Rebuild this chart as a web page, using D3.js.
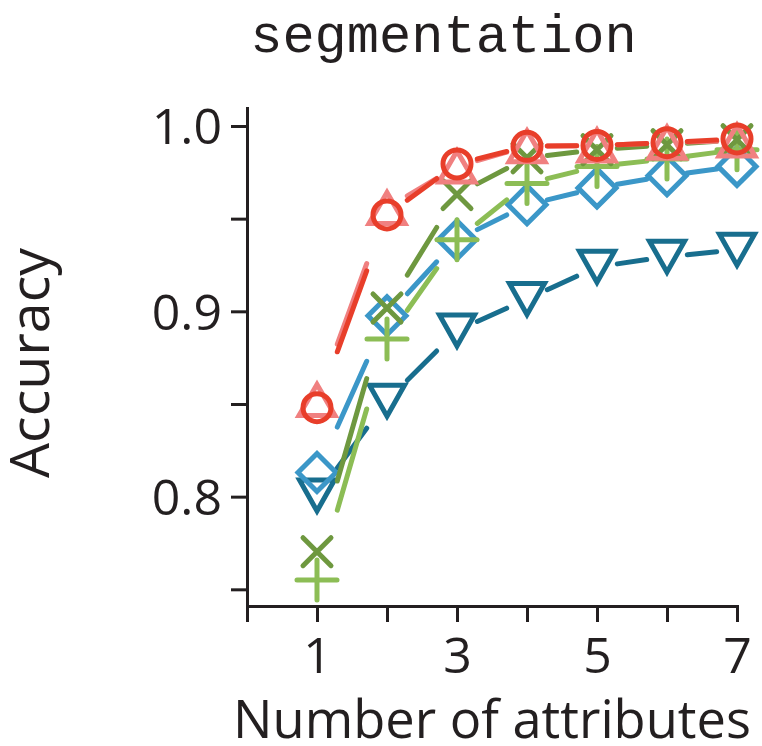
<!DOCTYPE html>
<html>
<head>
<meta charset="utf-8">
<script src="https://cdn.jsdelivr.net/npm/d3@7"></script>
<style>
  body { margin: 0; background: #fff; }
  svg { display: block; }
</style>
</head>
<body>
<svg id="chart" width="762" height="746"></svg>
<script>
// Number of attributes on the x axis
const attributes = [1, 2, 3, 4, 5, 6, 7];
const xTicks = [0, 1, 2, 3, 4, 5, 6, 7];
const xTickLabels = ["", "1", "", "3", "", "5", "", "7"];
const yTicks = [0.75, 0.80, 0.85, 0.90, 0.95, 1.00];
const yTickLabels = ["", "0.8", "", "0.9", "", "1.0"];

// Accuracy per method (one array per marker style)
const accTriangleDown = [0.8006, 0.8518, 0.8896, 0.9066, 0.9240, 0.9295, 0.9332];
const accDiamond      = [0.8130, 0.8976, 0.9386, 0.9575, 0.9666, 0.9732, 0.9782];
const accPlus         = [0.7550, 0.8850, 0.9386, 0.9689, 0.9782, 0.9822, 0.9872];
const accCross        = [0.7703, 0.9018, 0.9630, 0.9828, 0.9872, 0.9899, 0.9926];
const accTriangleUp   = [0.8522, 0.9558, 0.9782, 0.9890, 0.9895, 0.9910, 0.9921];
const accCircle       = [0.8480, 0.9520, 0.9795, 0.9890, 0.9895, 0.9910, 0.9930];

const svg = d3.select("#chart");
const ink = "#231f20";
const tickFont = "'Open Sans', 'Noto Sans', sans-serif";

const x = d3.scaleLinear().domain([0, 7]).range([247, 737]);
const y = d3.scaleLinear().domain([0.741, 1.0097]).range([606, 108]);

// ---- axes ----
const yAxis = svg.append("g")
  .attr("transform", `translate(${x(0)},0)`)
  .call(d3.axisLeft(y).tickValues(yTicks).tickSize(16).tickSizeOuter(0)
    .tickFormat((d, i) => yTickLabels[i]));

const xAxis = svg.append("g")
  .attr("transform", `translate(0,${y.range()[0]})`)
  .call(d3.axisBottom(x).tickValues(xTicks).tickSize(16).tickSizeOuter(0)
    .tickFormat((d, i) => xTickLabels[i]));

[yAxis, xAxis].forEach(g => {
  g.select(".domain").attr("stroke", ink).attr("stroke-width", 3).attr("stroke-linecap", "square");
  g.selectAll(".tick line").attr("stroke", ink).attr("stroke-width", 3);
  g.selectAll(".tick text").attr("fill", ink)
    .style("font-family", tickFont).style("font-size", "50px");
});
yAxis.selectAll(".tick text").attr("x", -25).attr("dy", "0.36em");
xAxis.selectAll(".tick text").attr("y", 67).attr("dy", 0);

// ---- series ----
const gap = 0.29;        // fraction of each interval left open next to the markers
const lw = 5;

const shapes = {
  circle: r => `M${r},0A${r},${r} 0 1,1 ${-r},0A${r},${r} 0 1,1 ${r},0Z`,
  triUp: () => `M0,-15.5L18,15.5L-18,15.5Z`,
  triDown: () => `M0,15.5L17.5,-15.5L-17.5,-15.5Z`,
  diamond: () => `M0,-19L19,0L0,19L-19,0Z`,
  cross: () => `M-14,-14L14,14M-14,14L14,-14`,
  plus: () => `M-20,0L20,0M0,-20L0,20`
};

const series = [
  { values: accTriangleDown, color: "#186e8e", shape: "triDown" },
  { values: accDiamond,      color: "#3b97c8", shape: "diamond" },
  { values: accPlus,         color: "#8cbd55", shape: "plus" },
  { values: accCross,        color: "#6e983f", shape: "cross" },
  { values: accTriangleUp,   color: "#f08080", shape: "triUp" },
  { values: accCircle,       color: "#e83e2a", shape: "circle" }
];

series.forEach(s => {
  const g = svg.append("g");
  const pts = s.values.map((v, i) => [x(attributes[i]), y(v)]);
  g.selectAll("line").data(d3.pairs(pts)).join("line")
    .attr("x1", ([a, b]) => a[0] + gap * (b[0] - a[0]))
    .attr("y1", ([a, b]) => a[1] + gap * (b[1] - a[1]))
    .attr("x2", ([a, b]) => b[0] - gap * (b[0] - a[0]))
    .attr("y2", ([a, b]) => b[1] - gap * (b[1] - a[1]))
    .attr("stroke", s.color).attr("stroke-width", lw).attr("stroke-linecap", "round");
  g.selectAll("path").data(pts).join("path")
    .attr("transform", d => `translate(${d[0]},${d[1]})`)
    .attr("d", shapes[s.shape](14))
    .attr("fill", "none").attr("stroke", s.color).attr("stroke-width", lw)
    .attr("stroke-linecap", s.shape === "plus" || s.shape === "cross" ? "round" : "butt")
    .attr("stroke-linejoin", "miter");
});

// ---- titles ----
function fitText(sel, width) {
  const w = sel.node().getComputedTextLength();
  const fs = parseFloat(sel.style("font-size"));
  sel.style("font-size", (fs * width / w) + "px");
}

svg.append("text")
  .attr("x", 443.5).attr("y", 52)
  .attr("text-anchor", "middle").attr("fill", ink)
  .style("font-family", "'Liberation Mono', 'Courier New', monospace")
  .style("font-size", "53.7px")
  .text("segmentation");

const xLabel = svg.append("text")
  .attr("x", 492).attr("y", 738)
  .attr("text-anchor", "middle").attr("fill", ink)
  .style("font-family", tickFont).style("font-size", "50px")
  .text("Number of attributes");
fitText(xLabel, 518);

const yLabel = svg.append("text")
  .attr("transform", "translate(49,363) rotate(-90)")
  .attr("text-anchor", "middle").attr("fill", ink)
  .style("font-family", tickFont).style("font-size", "50px")
  .text("Accuracy");
fitText(yLabel, 230);
</script>
</body>
</html>
